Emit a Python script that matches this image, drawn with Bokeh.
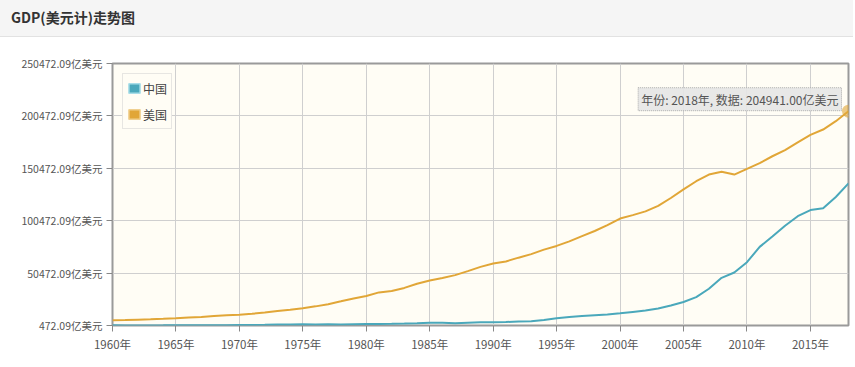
from bokeh.plotting import figure
from bokeh.models import (FixedTicker, Legend, LegendItem, Label, Div, Range1d)
from bokeh.layouts import column
from bokeh.embed import file_html
from bokeh.resources import INLINE

years = list(range(1960, 2019))
# GDP, 亿美元
usa = [5433, 5633, 6051, 6386, 6858, 7437, 8150, 8617, 9425, 10199,
       10733, 11649, 12791, 14254, 15452, 16849, 18734, 20818, 23516, 26273,
       28573, 32070, 33438, 36340, 40376, 43390, 45796, 48552, 52364, 56416,
       59631, 61581, 65203, 68586, 72872, 76397, 80731, 85776, 90628, 96312,
       102510, 105818, 109364, 114582, 122137, 130366, 138146, 144519, 147128, 144489,
       149921, 155426, 161970, 167849, 175273, 182383, 187451, 195430, 204941]
china = [597, 501, 472, 507, 597, 704, 767, 721, 700, 787,
         915, 986, 1122, 1368, 1423, 1612, 1516, 1723, 1495, 1783,
         1911, 1959, 2051, 2307, 2599, 3095, 3008, 2729, 3124, 3478,
         3609, 3834, 4269, 4447, 5643, 7345, 8637, 9616, 10290, 10940,
         12113, 13394, 14706, 16603, 19553, 22860, 27521, 35503, 45943, 51017,
         60872, 75515, 85322, 95704, 104757, 110616, 112333, 123104, 136082]
series_names = ["中国", "美国"]
series_colors = ["#4aa8bb", "#e1a637"]
y_ticks = [472.09, 50472.09, 100472.09, 150472.09, 200472.09, 250472.09]
y_tick_labels = ["472.09亿美元", "50472.09亿美元", "100472.09亿美元",
                 "150472.09亿美元", "200472.09亿美元", "250472.09亿美元"]
x_ticks = [1960, 1965, 1970, 1975, 1980, 1985, 1990, 1995, 2000, 2005, 2010, 2015]
x_tick_labels = [f"{t}年" for t in x_ticks]
title_text = "GDP(美元计)走势图"

FONT = "Noto Sans CJK SC"

header = Div(
    text=title_text, width=853, height=37, margin=(0, 0, 0, 0),
    styles={"background-color": "#f5f5f5", "border-bottom": "1px solid #e2e2e2",
            "box-sizing": "border-box", "font-family": FONT, "font-size": "14px",
            "font-weight": "bold", "color": "#333", "padding-left": "11px",
            "line-height": "34px", "overflow": "hidden"})

p = figure(width=853, height=328, output_backend="svg", toolbar_location=None,
           x_range=Range1d(1960, 2018), y_range=Range1d(y_ticks[0], y_ticks[-1]),
           min_border_left=112, min_border_right=5, min_border_top=26,
           min_border_bottom=40, margin=(0, 0, 0, 0))
p.background_fill_color = "#fffdf5"
p.border_fill_color = "white"
p.outline_line_color = "#9a9a9a"
p.outline_line_width = 2

r_cn = p.line(years, china, line_color=series_colors[0], line_width=2)
r_us = p.line(years, usa, line_color=series_colors[1], line_width=2)
p.scatter([years[-1]], [usa[-1]], size=13, fill_color=series_colors[1],
          fill_alpha=0.6, line_color=None)

# legend swatches (area glyphs placed outside the visible range)
sq_cn = p.quad(left=[1900], right=[1901], bottom=[-200000], top=[-100000],
               fill_color=series_colors[0], line_color="#a8dde8", line_width=1.5)
sq_us = p.quad(left=[1900], right=[1901], bottom=[-200000], top=[-100000],
               fill_color=series_colors[1], line_color="#f0d090", line_width=1.5)
legend = Legend(items=[LegendItem(label=series_names[0], renderers=[sq_cn]),
                       LegendItem(label=series_names[1], renderers=[sq_us])],
                location="top_left", margin=10, padding=4, spacing=6,
                glyph_width=14, glyph_height=12, label_height=20,
                label_standoff=2,
                label_text_font=FONT, label_text_font_size="12px",
                label_text_color="#444", border_line_color="#d0d0d0",
                background_fill_color="#fffdf5", background_fill_alpha=1)
p.add_layout(legend)

tip = Label(x=years[-1], y=usa[-1], x_offset=-7, y_offset=12,
            text=f"年份: {years[-1]}年, 数据: {usa[-1]:.2f}亿美元",
            text_align="right", text_baseline="middle",
            text_font=FONT, text_font_size="12px", text_color="#555",
            background_fill_color="#e6e6e6", background_fill_alpha=0.9,
            border_line_color="#aaaaaa", border_line_dash="1 1", padding=3)
p.add_layout(tip)

p.xaxis.ticker = FixedTicker(ticks=x_ticks)
p.xaxis.major_label_overrides = dict(zip(x_ticks, x_tick_labels))
p.yaxis.ticker = FixedTicker(ticks=y_ticks)
p.yaxis.major_label_overrides = {t: l for t, l in zip(y_ticks, y_tick_labels)}

for ax in (p.xaxis, p.yaxis):
    ax.axis_line_color = None
    ax.major_tick_line_color = "#888"
    ax.major_tick_in = 0
    ax.major_tick_out = 6
    ax.minor_tick_line_color = None
    ax.major_label_text_font = FONT
    ax.major_label_text_font_size = "11.5px"
    ax.major_label_text_color = "#555"
p.yaxis.major_label_text_font_size = "10.5px"
p.yaxis.major_label_standoff = 4
p.xaxis.major_label_standoff = 4

p.xgrid.grid_line_color = "#cfcfcf"
p.ygrid.grid_line_color = "#cfcfcf"
p.xgrid.ticker = FixedTicker(ticks=x_ticks)
p.ygrid.ticker = FixedTicker(ticks=y_ticks)

layout = column(header, p, spacing=0)
open("out.html", "w").write(file_html(layout, INLINE))
